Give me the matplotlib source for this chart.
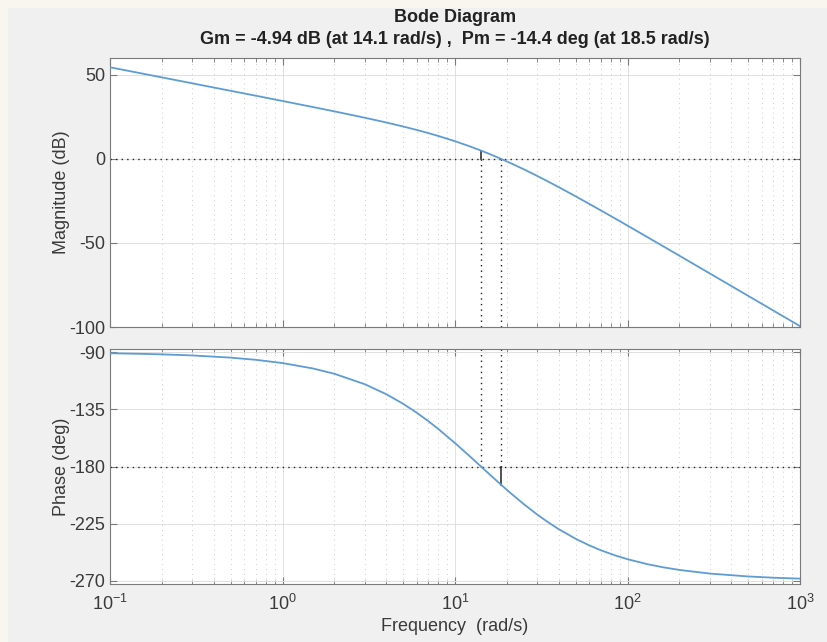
import numpy as np
import matplotlib
matplotlib.use("Agg")
import matplotlib.pyplot as plt
from matplotlib.patches import Rectangle
from matplotlib.ticker import LogLocator, NullFormatter

plt.rcParams['font.family'] = ['Liberation Sans', 'DejaVu Sans']
plt.rcParams['axes.unicode_minus'] = False

# values (rad/s, dB, deg)
freq = [0.1, 0.15, 0.2, 0.3, 0.5, 0.7, 1, 1.5, 2, 3, 4, 5, 6, 7, 8, 10, 12,
        14.1, 16, 18.5, 21, 25, 30, 35, 40, 50, 60, 70, 85, 100, 130, 160,
        200, 300, 500, 700, 1000]
mag_db = [54.49, 50.96, 48.46, 44.94, 40.49, 37.56, 34.43, 30.84, 28.25,
          24.47, 21.63, 19.27, 17.21, 15.35, 13.63, 10.51, 7.69, 4.99, 2.74,
          0.00, -2.52, -6.16, -10.18, -13.71, -16.85, -22.25, -26.76, -30.63,
          -35.55, -39.71, -46.46, -51.83, -57.61, -68.15, -81.44, -90.20,
          -99.50]
phase_deg = [-90.86, -91.29, -91.72, -92.58, -94.29, -96.01, -98.57, -102.82,
             -107.02, -115.23, -123.11, -130.60, -137.66, -144.28, -150.46,
             -161.57, -171.15, -179.83, -186.65, -194.38, -200.94, -209.54,
             -217.88, -224.31, -229.39, -236.89, -242.11, -245.92, -250.05,
             -252.98, -256.85, -259.29, -261.43, -264.28, -266.56, -267.54,
             -268.28]

gm_db = -4.94
gm_freq = 14.1
pm_deg = -14.4
pm_freq = 18.5

mag_ticks = [-100, -50, 0, 50]
phase_ticks = [-270, -225, -180, -135, -90]

line_col = '#5e9cd3'
txt_col = '#3a3a3a'
axis_col = '#7a7a7a'
dots = (0, (1, 3))

W, H = 827, 642
fig = plt.figure(figsize=(W / 100, H / 100), dpi=100, facecolor='#f9f6f0')
fig.patches.append(Rectangle((8 / W, 0), 1, 1 - 8 / H, transform=fig.transFigure,
                             facecolor='#f0f0f0', edgecolor='none', zorder=-1))

ax1 = fig.add_axes([110 / W, 1 - 327 / H, 690 / W, 269 / H])
ax2 = fig.add_axes([110 / W, 1 - 584 / H, 690 / W, 235 / H])


def style(ax, yticks, ylim):
    ax.set_xscale('log')
    ax.set_xlim(0.1, 1000)
    ax.set_ylim(*ylim)
    ax.set_yticks(yticks)
    ax.xaxis.set_major_locator(LogLocator(base=10, numticks=10))
    ax.xaxis.set_minor_locator(LogLocator(base=10, subs=np.arange(2, 10), numticks=10))
    ax.xaxis.set_minor_formatter(NullFormatter())
    ax.set_facecolor('white')
    for s in ax.spines.values():
        s.set_color(axis_col)
        s.set_linewidth(0.8)
    ax.tick_params(which='both', direction='in', top=True, right=True,
                   colors=axis_col, labelcolor=txt_col, labelsize=13)
    ax.tick_params(which='major', length=5, width=0.8)
    ax.tick_params(which='minor', length=3, width=0.6)
    ax.tick_params(axis='x', pad=7)
    ax.grid(True, which='major', color='#e0e0e0', linewidth=0.7, linestyle='-')
    ax.grid(True, which='minor', axis='x', color='#cdcdcd', linewidth=0.7,
            linestyle=(0, (1, 4)))
    ax.set_axisbelow(True)


style(ax1, mag_ticks, (-100, 60))
style(ax2, phase_ticks, (-272.5, -87.5))
ax1.tick_params(labelbottom=False)

# magnitude
ax1.plot(freq, mag_db, color=line_col, lw=1.3, zorder=3)
ax1.axhline(0, color='#222222', ls=dots, lw=1.0, zorder=2)
ax1.plot([gm_freq, gm_freq], [-100, 0], color='#222222', ls=dots, lw=1.0, zorder=2)
ax1.plot([pm_freq, pm_freq], [-100, 0], color='#222222', ls=dots, lw=1.0, zorder=2)
ax1.plot([gm_freq, gm_freq], [0, -gm_db], color='#222222', lw=1.1, zorder=2)

# phase
ax2.plot(freq, phase_deg, color=line_col, lw=1.3, zorder=3)
ax2.axhline(-180, color='#222222', ls=dots, lw=1.0, zorder=2)
ax2.plot([gm_freq, gm_freq], [-87.5, -180], color='#222222', ls=dots, lw=1.0, zorder=2)
ax2.plot([pm_freq, pm_freq], [-87.5, -180], color='#222222', ls=dots, lw=1.0, zorder=2)
ax2.plot([pm_freq, pm_freq], [-180, -180 + pm_deg], color='#222222', lw=1.1, zorder=2)

ax1.set_ylabel('Magnitude (dB)', fontsize=13, color=txt_col)
ax2.set_ylabel('Phase (deg)', fontsize=13, color=txt_col)
ax2.set_xlabel('Frequency  (rad/s)', fontsize=13, color=txt_col, labelpad=3)
ax1.yaxis.set_label_coords(-0.058, 0.5)
ax2.yaxis.set_label_coords(-0.058, 0.5)

fig.text(455 / W, 1 - 18 / H, 'Bode Diagram', ha='center', va='center',
         fontsize=13, fontweight='bold', color='#222222')
fig.text(455 / W, 1 - 39 / H,
         'Gm = %.2f dB (at %.1f rad/s) ,  Pm = %.1f deg (at %.1f rad/s)'
         % (gm_db, gm_freq, pm_deg, pm_freq),
         ha='center', va='center', fontsize=13, fontweight='bold', color='#222222')

fig.savefig('out.png', dpi=100, facecolor=fig.get_facecolor())
